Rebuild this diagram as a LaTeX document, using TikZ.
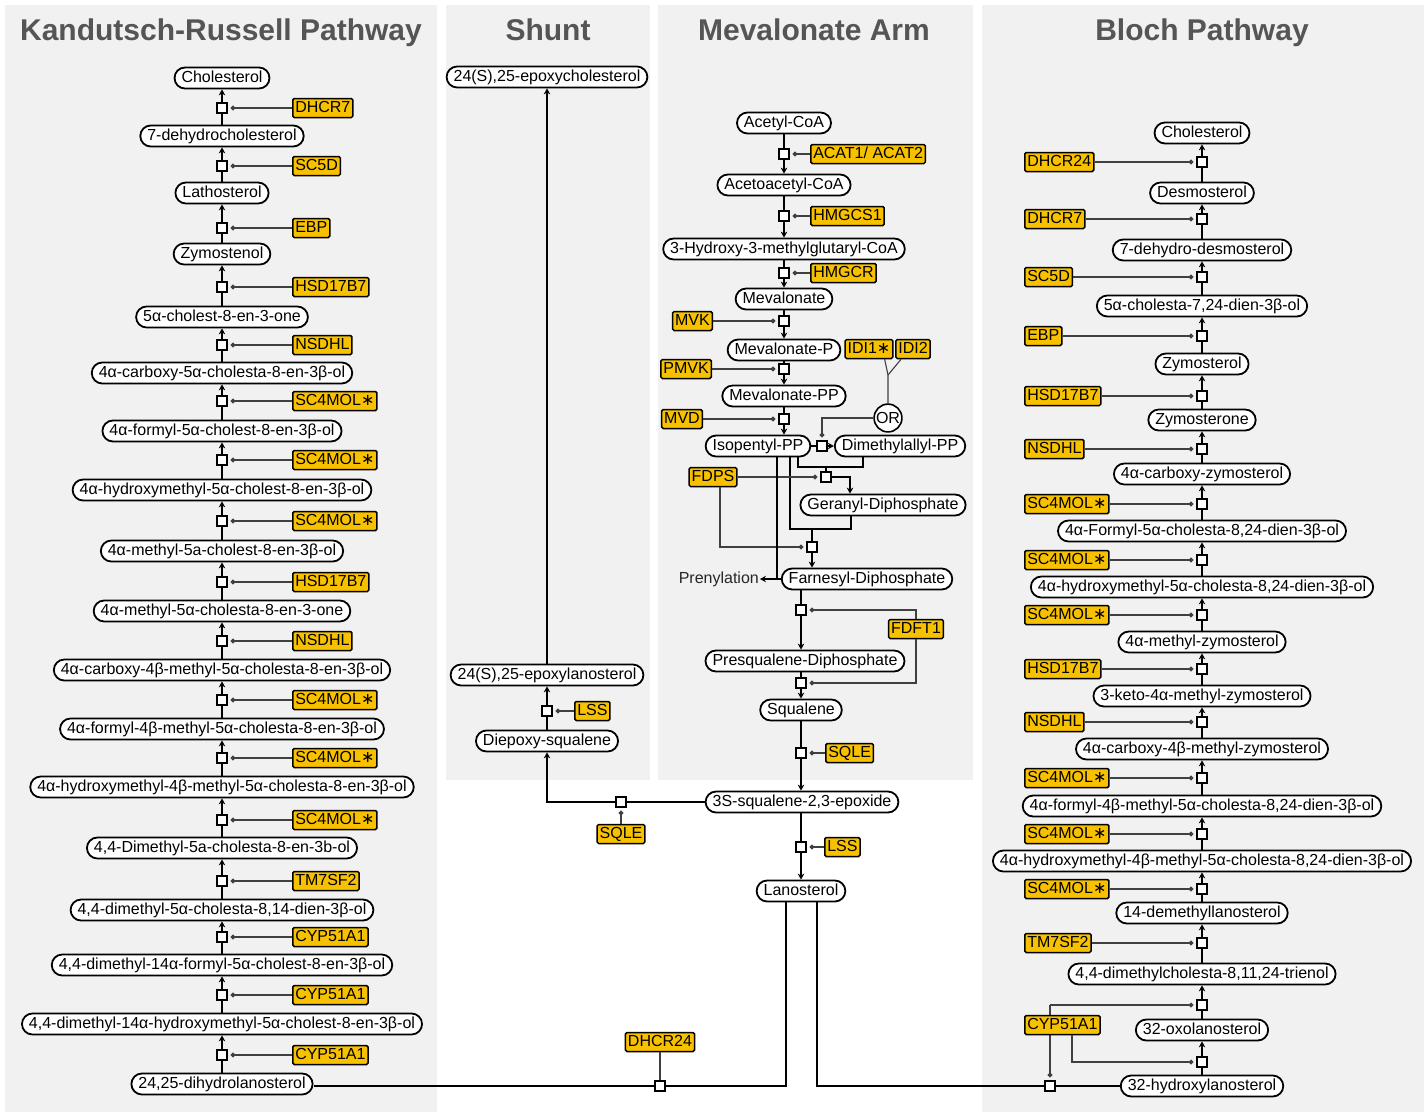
\documentclass[tikz,border=0pt]{standalone}
\usepackage{fontspec}
\setmainfont{Liberation Sans}
\newfontfamily\astfont{DejaVu Sans}
\usepackage{tikz}
\usetikzlibrary{arrows.meta}
\definecolor{panelgray}{HTML}{F0F1F0}
\definecolor{enzgold}{HTML}{F7C100}
\definecolor{titlegray}{HTML}{555555}
\newcommand{\smo}{SC4MOL{\astfont ∗}}
\tikzset{
    met/.style={draw, line width=1.8pt, fill=white, rounded corners=10.5pt, minimum height=21pt,
        text height=11.5pt, text depth=3.5pt, inner xsep=7pt, inner ysep=3pt, font=\fontsize{16}{19}\selectfont},
    enz/.style={draw, line width=1.5pt, fill=enzgold, rounded corners=1.5pt, minimum height=19pt,
        text height=11.5pt, text depth=3.2pt, inner xsep=2.5pt, inner ysep=2pt, font=\fontsize{16}{19}\selectfont},
    rxn/.style={draw, line width=2.4pt, fill=white, minimum size=10pt, inner sep=0pt},
    gate/.style={draw, circle, line width=1.6pt, fill=white, inner sep=0.5pt, minimum size=25pt, font=\fontsize{16}{19}\selectfont},
    flow/.style={line width=2.7pt},
    flowto/.style={flow, -{Stealth[length=6pt,width=6.5pt]}},
    mod/.style={line width=1.1pt, black!75, -{Circle[length=4.6pt]}, shorten >=2.5pt},
    modline/.style={line width=1.1pt, black!75},
    panel/.style={fill=panelgray},
    title/.style={font=\fontsize{30}{36}\selectfont\bfseries, text=titlegray, anchor=base}
}
\begin{document}
\begin{tikzpicture}[x=1pt, y=-1pt]
\useasboundingbox (0,0) rectangle (1427,1114);

%panels and titles
\fill[panel] (5,5) rectangle (437,1112);
\fill[panel] (446,5) rectangle (650,780);
\fill[panel] (658,5) rectangle (973,780);
\fill[panel] (982,5) rectangle (1424,1112);
\node[title] (t1) at (221,40) {Kandutsch-Russell Pathway};
\node[title] (t2) at (548,40) {Shunt};
\node[title] (t3) at (814,40) {Mevalonate Arm};
\node[title] (t4) at (1202,40) {Bloch Pathway};

%Kandutsch-Russell sterols
\node[met] (k1) at (222,78) {Cholesterol};
\node[met] (k2) at (222,136) {7-dehydrocholesterol};
\node[met] (k3) at (222,193) {Lathosterol};
\node[met] (k4) at (222,254) {Zymostenol};
\node[met] (k5) at (222,317) {5α-cholest-8-en-3-one};
\node[met] (k6) at (222,373) {4α-carboxy-5α-cholesta-8-en-3β-ol};
\node[met] (k7) at (222,431) {4α-formyl-5α-cholest-8-en-3β-ol};
\node[met] (k8) at (222,490) {4α-hydroxymethyl-5α-cholest-8-en-3β-ol};
\node[met] (k9) at (222,551) {4α-methyl-5a-cholest-8-en-3β-ol};
\node[met] (k10) at (222,611) {4α-methyl-5α-cholesta-8-en-3-one};
\node[met] (k11) at (222,670) {4α-carboxy-4β-methyl-5α-cholesta-8-en-3β-ol};
\node[met] (k12) at (222,729) {4α-formyl-4β-methyl-5α-cholesta-8-en-3β-ol};
\node[met] (k13) at (222,787) {4α-hydroxymethyl-4β-methyl-5α-cholesta-8-en-3β-ol};
\node[met] (k14) at (222,848) {4,4-Dimethyl-5a-cholesta-8-en-3b-ol};
\node[met] (k15) at (222,910) {4,4-dimethyl-5α-cholesta-8,14-dien-3β-ol};
\node[met] (k16) at (222,965) {4,4-dimethyl-14α-formyl-5α-cholest-8-en-3β-ol};
\node[met] (k17) at (222,1024) {4,4-dimethyl-14α-hydroxymethyl-5α-cholest-8-en-3β-ol};
\node[met] (k18) at (222,1084) {24,25-dihydrolanosterol};

%Kandutsch-Russell reactions
\node[rxn] (kr1) at (222,108) {};
\node[rxn] (kr2) at (222,166) {};
\node[rxn] (kr3) at (222,228) {};
\node[rxn] (kr4) at (222,287) {};
\node[rxn] (kr5) at (222,345) {};
\node[rxn] (kr6) at (222,401) {};
\node[rxn] (kr7) at (222,460) {};
\node[rxn] (kr8) at (222,521) {};
\node[rxn] (kr9) at (222,582) {};
\node[rxn] (kr10) at (222,641) {};
\node[rxn] (kr11) at (222,700) {};
\node[rxn] (kr12) at (222,758) {};
\node[rxn] (kr13) at (222,820) {};
\node[rxn] (kr14) at (222,881) {};
\node[rxn] (kr15) at (222,937) {};
\node[rxn] (kr16) at (222,995) {};
\node[rxn] (kr17) at (222,1055) {};

%Kandutsch-Russell enzymes
\node[enz, anchor=west] (ke1) at (292,108) {DHCR7};
\node[enz, anchor=west] (ke2) at (292,166) {SC5D};
\node[enz, anchor=west] (ke3) at (292,228) {EBP};
\node[enz, anchor=west] (ke4) at (292,287) {HSD17B7};
\node[enz, anchor=west] (ke5) at (292,345) {NSDHL};
\node[enz, anchor=west] (ke6) at (292,401) {\smo};
\node[enz, anchor=west] (ke7) at (292,460) {\smo};
\node[enz, anchor=west] (ke8) at (292,521) {\smo};
\node[enz, anchor=west] (ke9) at (292,582) {HSD17B7};
\node[enz, anchor=west] (ke10) at (292,641) {NSDHL};
\node[enz, anchor=west] (ke11) at (292,700) {\smo};
\node[enz, anchor=west] (ke12) at (292,758) {\smo};
\node[enz, anchor=west] (ke13) at (292,820) {\smo};
\node[enz, anchor=west] (ke14) at (292,881) {TM7SF2};
\node[enz, anchor=west] (ke15) at (292,937) {CYP51A1};
\node[enz, anchor=west] (ke16) at (292,995) {CYP51A1};
\node[enz, anchor=west] (ke17) at (292,1055) {CYP51A1};

%Kandutsch-Russell steps, going up
\draw[flow] (k2) -- (kr1); \draw[flowto] (kr1) -- (k1); \draw[mod] (ke1) -- (kr1);
\draw[flow] (k3) -- (kr2); \draw[flowto] (kr2) -- (k2); \draw[mod] (ke2) -- (kr2);
\draw[flow] (k4) -- (kr3); \draw[flowto] (kr3) -- (k3); \draw[mod] (ke3) -- (kr3);
\draw[flow] (k5) -- (kr4); \draw[flowto] (kr4) -- (k4); \draw[mod] (ke4) -- (kr4);
\draw[flow] (k6) -- (kr5); \draw[flowto] (kr5) -- (k5); \draw[mod] (ke5) -- (kr5);
\draw[flow] (k7) -- (kr6); \draw[flowto] (kr6) -- (k6); \draw[mod] (ke6) -- (kr6);
\draw[flow] (k8) -- (kr7); \draw[flowto] (kr7) -- (k7); \draw[mod] (ke7) -- (kr7);
\draw[flow] (k9) -- (kr8); \draw[flowto] (kr8) -- (k8); \draw[mod] (ke8) -- (kr8);
\draw[flow] (k10) -- (kr9); \draw[flowto] (kr9) -- (k9); \draw[mod] (ke9) -- (kr9);
\draw[flow] (k11) -- (kr10); \draw[flowto] (kr10) -- (k10); \draw[mod] (ke10) -- (kr10);
\draw[flow] (k12) -- (kr11); \draw[flowto] (kr11) -- (k11); \draw[mod] (ke11) -- (kr11);
\draw[flow] (k13) -- (kr12); \draw[flowto] (kr12) -- (k12); \draw[mod] (ke12) -- (kr12);
\draw[flow] (k14) -- (kr13); \draw[flowto] (kr13) -- (k13); \draw[mod] (ke13) -- (kr13);
\draw[flow] (k15) -- (kr14); \draw[flowto] (kr14) -- (k14); \draw[mod] (ke14) -- (kr14);
\draw[flow] (k16) -- (kr15); \draw[flowto] (kr15) -- (k15); \draw[mod] (ke15) -- (kr15);
\draw[flow] (k17) -- (kr16); \draw[flowto] (kr16) -- (k16); \draw[mod] (ke16) -- (kr16);
\draw[flow] (k18) -- (kr17); \draw[flowto] (kr17) -- (k17); \draw[mod] (ke17) -- (kr17);

%Bloch sterols
\node[met] (b1) at (1202,133) {Cholesterol};
\node[met] (b2) at (1202,193) {Desmosterol};
\node[met] (b3) at (1202,250) {7-dehydro-desmosterol};
\node[met] (b4) at (1202,306) {5α-cholesta-7,24-dien-3β-ol};
\node[met] (b5) at (1202,364) {Zymosterol};
\node[met] (b6) at (1202,420) {Zymosterone};
\node[met] (b7) at (1202,474) {4α-carboxy-zymosterol};
\node[met] (b8) at (1202,531) {4α-Formyl-5α-cholesta-8,24-dien-3β-ol};
\node[met] (b9) at (1202,587) {4α-hydroxymethyl-5α-cholesta-8,24-dien-3β-ol};
\node[met] (b10) at (1202,642) {4α-methyl-zymosterol};
\node[met] (b11) at (1202,696) {3-keto-4α-methyl-zymosterol};
\node[met] (b12) at (1202,749) {4α-carboxy-4β-methyl-zymosterol};
\node[met] (b13) at (1202,806) {4α-formyl-4β-methyl-5α-cholesta-8,24-dien-3β-ol};
\node[met] (b14) at (1202,861) {4α-hydroxymethyl-4β-methyl-5α-cholesta-8,24-dien-3β-ol};
\node[met] (b15) at (1202,913) {14-demethyllanosterol};
\node[met] (b16) at (1202,974) {4,4-dimethylcholesta-8,11,24-trienol};
\node[met] (b17) at (1202,1030) {32-oxolanosterol};
\node[met] (b18) at (1202,1086) {32-hydroxylanosterol};

%Bloch reactions
\node[rxn] (br1) at (1202,162) {};
\node[rxn] (br2) at (1202,219) {};
\node[rxn] (br3) at (1202,277) {};
\node[rxn] (br4) at (1202,336) {};
\node[rxn] (br5) at (1202,396) {};
\node[rxn] (br6) at (1202,449) {};
\node[rxn] (br7) at (1202,504) {};
\node[rxn] (br8) at (1202,560) {};
\node[rxn] (br9) at (1202,615) {};
\node[rxn] (br10) at (1202,669) {};
\node[rxn] (br11) at (1202,722) {};
\node[rxn] (br12) at (1202,778) {};
\node[rxn] (br13) at (1202,834) {};
\node[rxn] (br14) at (1202,889) {};
\node[rxn] (br15) at (1202,943) {};
\node[rxn] (br16) at (1202,1005) {};
\node[rxn] (br17) at (1202,1062) {};

%Bloch enzymes
\node[enz, anchor=west] (be1) at (1024,162) {DHCR24};
\node[enz, anchor=west] (be2) at (1024,219) {DHCR7};
\node[enz, anchor=west] (be3) at (1024,277) {SC5D};
\node[enz, anchor=west] (be4) at (1024,336) {EBP};
\node[enz, anchor=west] (be5) at (1024,396) {HSD17B7};
\node[enz, anchor=west] (be6) at (1024,449) {NSDHL};
\node[enz, anchor=west] (be7) at (1024,504) {\smo};
\node[enz, anchor=west] (be8) at (1024,560) {\smo};
\node[enz, anchor=west] (be9) at (1024,615) {\smo};
\node[enz, anchor=west] (be10) at (1024,669) {HSD17B7};
\node[enz, anchor=west] (be11) at (1024,722) {NSDHL};
\node[enz, anchor=west] (be12) at (1024,778) {\smo};
\node[enz, anchor=west] (be13) at (1024,834) {\smo};
\node[enz, anchor=west] (be14) at (1024,889) {\smo};
\node[enz, anchor=west] (be15) at (1024,943) {TM7SF2};

%Bloch steps, going up
\draw[flow] (b2) -- (br1); \draw[flowto] (br1) -- (b1); \draw[mod] (be1) -- (br1);
\draw[flow] (b3) -- (br2); \draw[flowto] (br2) -- (b2); \draw[mod] (be2) -- (br2);
\draw[flow] (b4) -- (br3); \draw[flowto] (br3) -- (b3); \draw[mod] (be3) -- (br3);
\draw[flow] (b5) -- (br4); \draw[flowto] (br4) -- (b4); \draw[mod] (be4) -- (br4);
\draw[flow] (b6) -- (br5); \draw[flowto] (br5) -- (b5); \draw[mod] (be5) -- (br5);
\draw[flow] (b7) -- (br6); \draw[flowto] (br6) -- (b6); \draw[mod] (be6) -- (br6);
\draw[flow] (b8) -- (br7); \draw[flowto] (br7) -- (b7); \draw[mod] (be7) -- (br7);
\draw[flow] (b9) -- (br8); \draw[flowto] (br8) -- (b8); \draw[mod] (be8) -- (br8);
\draw[flow] (b10) -- (br9); \draw[flowto] (br9) -- (b9); \draw[mod] (be9) -- (br9);
\draw[flow] (b11) -- (br10); \draw[flowto] (br10) -- (b10); \draw[mod] (be10) -- (br10);
\draw[flow] (b12) -- (br11); \draw[flowto] (br11) -- (b11); \draw[mod] (be11) -- (br11);
\draw[flow] (b13) -- (br12); \draw[flowto] (br12) -- (b12); \draw[mod] (be12) -- (br12);
\draw[flow] (b14) -- (br13); \draw[flowto] (br13) -- (b13); \draw[mod] (be13) -- (br13);
\draw[flow] (b15) -- (br14); \draw[flowto] (br14) -- (b14); \draw[mod] (be14) -- (br14);
\draw[flow] (b16) -- (br15); \draw[flowto] (br15) -- (b15); \draw[mod] (be15) -- (br15);
\draw[flow] (b17) -- (br16); \draw[flowto] (br16) -- (b16);
\draw[flow] (b18) -- (br17); \draw[flowto] (br17) -- (b17);

%Mevalonate arm
\node[met] (m1) at (784,123) {Acetyl-CoA};
\node[met] (m2) at (784,185) {Acetoacetyl-CoA};
\node[met] (m3) at (784,249) {3-Hydroxy-3-methylglutaryl-CoA};
\node[met] (m4) at (784,299) {Mevalonate};
\node[met] (m5) at (784,350) {Mevalonate-P};
\node[met] (m6) at (784,396) {Mevalonate-PP};
\node[met] (m7) at (758,446) {Isopentyl-PP};
\node[met] (m8) at (900,446) {Dimethylallyl-PP};
\node[met] (m9) at (883,505) {Geranyl-Diphosphate};
\node[met] (m10) at (867,579) {Farnesyl-Diphosphate};
\node[met] (m11) at (805,661) {Presqualene-Diphosphate};
\node[met] (m12) at (801,710) {Squalene};
\node[met] (m13) at (802,802) {3S-squalene-2,3-epoxide};
\node[met] (m14) at (801,891) {Lanosterol};
\node[anchor=east, inner sep=1pt, text=black!85, font=\fontsize{16}{19}\selectfont] (pren) at (760,579) {Prenylation};

\node[rxn] (mr1) at (784,154) {};
\node[rxn] (mr2) at (784,216) {};
\node[rxn] (mr3) at (784,273) {};
\node[rxn] (mr4) at (784,321) {};
\node[rxn] (mr5) at (784,369) {};
\node[rxn] (mr6) at (784,419) {};
\node[rxn] (mr7) at (822,446) {};
\node[rxn] (mr8) at (826,477) {};
\node[rxn] (mr9) at (812,547) {};
\node[rxn] (mr10) at (801,610) {};
\node[rxn] (mr11) at (801,683) {};
\node[rxn] (mr12) at (801,753) {};
\node[rxn] (mr13) at (801,847) {};

\node[enz, anchor=west] (me1) at (810,154) {ACAT1/ ACAT2};
\node[enz, anchor=west] (me2) at (810,216) {HMGCS1};
\node[enz, anchor=west] (me3) at (810,273) {HMGCR};
\node[enz, anchor=east] (me4) at (713,321) {MVK};
\node[enz, anchor=east] (me5) at (712,369) {PMVK};
\node[enz, anchor=east] (me6) at (703,419) {MVD};
\node[enz] (idi1) at (869,349) {IDI1{\astfont ∗}};
\node[enz] (idi2) at (913,349) {IDI2};
\node[gate] (or) at (888,418) {OR};
\node[enz] (fdps) at (713,477) {FDPS};
\node[enz] (fdft) at (916,629) {FDFT1};
\node[enz, anchor=west] (sqle) at (825,753) {SQLE};
\node[enz, anchor=west] (lss) at (824,847) {LSS};

%linear steps, going down
\draw[flow] (m1) -- (mr1); \draw[flowto] (mr1) -- (m2); \draw[mod] (me1) -- (mr1);
\draw[flow] (m2) -- (mr2); \draw[flowto] (mr2) -- (m3); \draw[mod] (me2) -- (mr2);
\draw[flow] (m3) -- (mr3); \draw[flowto] (mr3) -- (m4); \draw[mod] (me3) -- (mr3);
\draw[flow] (m4) -- (mr4); \draw[flowto] (mr4) -- (m5); \draw[mod] (me4) -- (mr4);
\draw[flow] (m5) -- (mr5); \draw[flowto] (mr5) -- (m6); \draw[mod] (me5) -- (mr5);
\draw[flow] (m6) -- (mr6); \draw[flowto] (mr6) -- (m7.north -| mr6); \draw[mod] (me6) -- (mr6);

%isomerase
\draw[flow] (m7) -- (mr7); \draw[flowto] (mr7) -- (m8);
\coordinate (o1) at (822,418);
\coordinate (j1) at (888,375);
\draw[mod] (or) -- (o1) -- (mr7);
\draw[modline] ([xshift=-9pt]idi1.south east) -- (j1) -- (or);
\draw[modline] ([xshift=6pt]idi2.south west) -- (j1);

%geranyl and farnesyl
\coordinate (g1) at (798,467);
\coordinate (g2) at (863,467);
\coordinate (g3) at (826,467);
\coordinate (g4) at (850,477);
\draw[flow] (m7.south -| g1) -- (g1) -- (g2) -- (m8.south -| g2);
\draw[flow] (g3) -- (mr8);
\draw[flowto] (mr8) -- (g4) -- (m9.north -| g4);
\coordinate (h1) at (790,529);
\coordinate (h2) at (851,529);
\coordinate (h3) at (812,529);
\draw[flow] (m7.south -| h1) -- (h1) -- (h2) -- (m9.south -| h2);
\draw[flow] (h3) -- (mr9);
\draw[flowto] (mr9) -- (m10.north -| mr9);
\coordinate (f1) at (720,547);
\draw[mod] (fdps) -- (mr8);
\draw[mod] (fdps.south -| f1) -- (f1) -- (mr9);
\coordinate (p1) at (777,579);
\draw[flow] (m7.south -| p1) -- (p1);
\draw[flowto] (m10.west) -- (pren.east);

%squalene and lanosterol
\draw[flow] (m10.south -| mr10) -- (mr10); \draw[flowto] (mr10) -- (m11.north -| mr10);
\draw[flow] (m11.south -| mr11) -- (mr11); \draw[flowto] (mr11) -- (m12);
\draw[flow] (m12) -- (mr12); \draw[flowto] (mr12) -- (m13.north -| mr12); \draw[mod] (sqle) -- (mr12);
\draw[flow] (m13.south -| mr13) -- (mr13); \draw[flowto] (mr13) -- (m14); \draw[mod] (lss) -- (mr13);
\coordinate (q1) at (916,610);
\coordinate (q2) at (916,683);
\draw[mod] (fdft.north) -- (q1) -- (mr10);
\draw[mod] (fdft.south) -- (q2) -- (mr11);

%shunt
\node[met] (s1) at (547,77) {24(S),25-epoxycholesterol};
\node[met] (s2) at (547,675) {24(S),25-epoxylanosterol};
\node[met] (s3) at (547,741) {Diepoxy-squalene};
\node[rxn] (sr1) at (547,711) {};
\node[rxn] (sr2) at (621,802) {};
\node[enz, anchor=west] (lss2) at (574,711) {LSS};
\node[enz] (sqle2) at (621,834) {SQLE};
\coordinate (c1) at (547,802);
\draw[flowto] (s2) -- (s1);
\draw[flow] (s3) -- (sr1); \draw[flowto] (sr1) -- (s2); \draw[mod] (lss2) -- (sr1);
\draw[flow] (m13.west) -- (sr2); \draw[flowto] (sr2) -- (c1) -- (s3); \draw[mod] (sqle2) -- (sr2);

%lanosterol to both pathways
\node[rxn] (dr) at (660,1086) {};
\node[rxn] (cr) at (1050,1086) {};
\node[enz] (dhcr) at (660,1042) {DHCR24};
\coordinate (d1) at (786,1086);
\coordinate (d2) at (817,1086);
\draw[flow] (m14.south -| d1) -- (d1) -- (dr); \draw[flow] (dr) -- (dr -| k18.east);
\draw[flow] (m14.south -| d2) -- (d2) -- (cr); \draw[flow] (cr) -- (cr -| b18.west);
\draw[modline] (dhcr) -- (dr);
\coordinate (y1) at (1050,1005);
\coordinate (y2) at (1072,1062);
\draw[mod] (y1) -- (br16);
\draw[mod] (y1) -- (cr);
\node[enz, anchor=west] (be16) at (1024,1025) {CYP51A1};
\draw[mod] (be16.south -| y2) -- (y2) -- (br17);
\end{tikzpicture}
\end{document}
